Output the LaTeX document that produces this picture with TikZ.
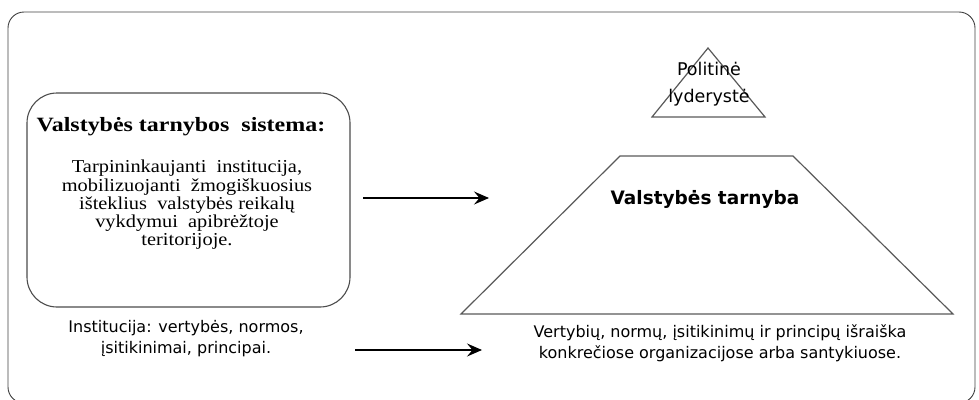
\documentclass[tikz,border=0pt]{standalone}
\usepackage{fontspec}
\setmainfont{Liberation Serif}
\newfontfamily\serifwide[FakeStretch=1.18]{Liberation Serif}
\newfontfamily\serifbody[FakeStretch=1.12]{Liberation Serif}
\newfontfamily\sansdv{DejaVu Sans}
\usetikzlibrary{arrows.meta}
\begin{document}
\begin{tikzpicture}[x=1pt,y=-1pt,
  frame/.style={draw=black!75, line width=0.9pt, rounded corners=16pt},
  sysframe/.style={draw=black!70, line width=1.1pt, rounded corners=30pt,
    minimum width=323pt, minimum height=214pt, inner sep=0pt},
  outline/.style={draw=black!65, line width=1.2pt},
  arr/.style={draw=black, line width=1.1pt,
    -{Stealth[length=15pt,width=13pt,inset=5.5pt]}},
  sertitle/.style={font=\serifwide\bfseries\fontsize{20.3}{22}\selectfont, inner sep=0pt},
  serbody/.style={font=\serifbody\fontsize{18.2}{18.2}\selectfont, align=center, inner sep=0pt},
  sanstext/.style={font=\sansdv\fontsize{16}{21}\selectfont, align=center, inner sep=0pt},
  peaktext/.style={font=\sansdv\fontsize{17.5}{27}\selectfont, align=center, inner sep=0pt},
  basetitle/.style={font=\sansdv\bfseries\fontsize{18.5}{20}\selectfont, inner sep=0pt}]
\useasboundingbox (0,0) rectangle (979,399);

% outer frame
\draw[frame] (8,12) rectangle (975,403);

% left block: the civil service system
\node[sysframe] (sysbox) at (188.5,200) {};
\node[sertitle] (systitle) at (181,127) {Valstybės tarnybos\ \ sistema:};
\node[serbody, anchor=north] (sysbody) at (187,160) {Tarpininkaujanti\ \ institucija,\\
mobilizuojanti\ \ žmogiškuosius\\
išteklius\ \ valstybės reikalų\\
vykdymui\ \ apibrėžtoje\\
teritorijoje.};

% political leadership triangle
\coordinate (tA) at (708,48);
\coordinate (tL) at (652,117);
\coordinate (tR) at (765,117);
\draw[outline, line join=miter] (tA) -- (tR) -- (tL) -- cycle;
\node[peaktext] (leader) at (709,84) {Politinė\\lyderystė};

% civil service trapezoid
\coordinate (zTL) at (620,156);
\coordinate (zTR) at (793,156);
\coordinate (zBR) at (953,314);
\coordinate (zBL) at (461,314);
\draw[outline] (zTL) -- (zTR) -- (zBR) -- (zBL) -- cycle;
\node[basetitle] (service) at (705,199) {Valstybės tarnyba};

% lower texts
\node[sanstext] (inst) at (186,339) {Institucija: vertybės, normos,\\įsitikinimai, principai.};
\node[sanstext] (expr) at (720,343) {Vertybių, normų, įsitikinimų ir principų išraiška\\konkrečiose organizacijose arba santykiuose.};

% arrows
\coordinate (a1s) at (363,198);
\coordinate (a1e) at (489,198);
\coordinate (a2s) at (355,350);
\coordinate (a2e) at (482,350);
\draw[arr] (a1s) -- (a1e);
\draw[arr] (a2s) -- (a2e);
\end{tikzpicture}
\end{document}
